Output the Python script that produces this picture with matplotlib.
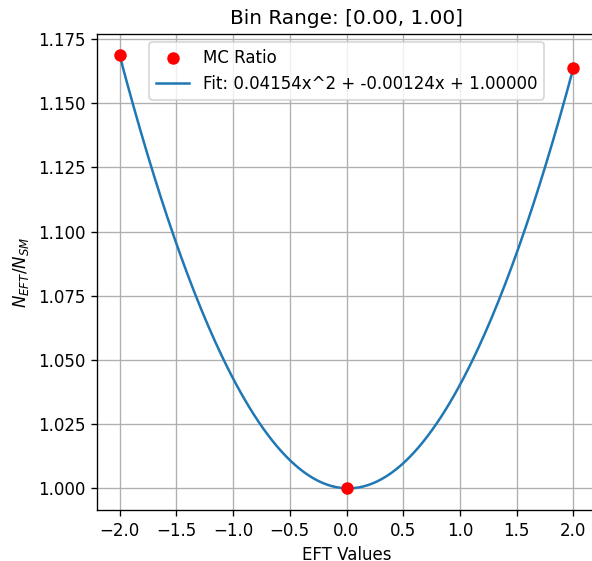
import numpy as np
import matplotlib
matplotlib.use("Agg")
import matplotlib.pyplot as plt

eft_values = [-2.0, 0.0, 2.0]
mc_ratio = [1.16864, 1.00000, 1.16368]
fit_coeffs = [0.04154, -0.00124, 1.00000]
title = "Bin Range: [0.00, 1.00]"

DPI = 120
fig = plt.figure(figsize=(592/DPI, 561/DPI), dpi=DPI)
ax = fig.add_axes([97/592, 51/561, 499/592, 476.2/561])

ax.scatter(eft_values, mc_ratio, color='red', s=42, label='MC Ratio', zorder=3)
xs = np.linspace(min(eft_values), max(eft_values), 200)
ys = np.polyval(fit_coeffs, xs)
ax.plot(xs, ys, color='#1f77b4', lw=1.5,
        label=f"Fit: {fit_coeffs[0]:.5f}x^2 + {fit_coeffs[1]:.5f}x + {fit_coeffs[2]:.5f}")
ax.set_title(title, fontsize=12)
ax.set_xlabel("EFT Values")
ax.set_ylabel(r"$N_{EFT}/N_{SM}$")
ax.grid(True)
ax.legend(loc='upper center')
fig.savefig("out.png", dpi=DPI)
